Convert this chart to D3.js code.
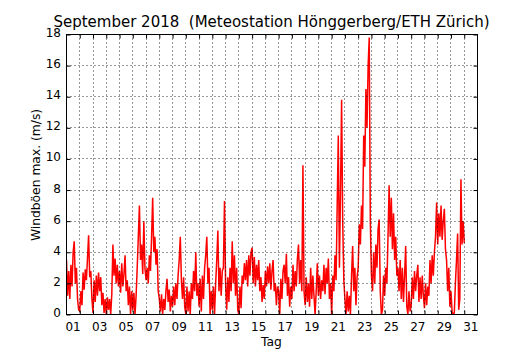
<!DOCTYPE html>
<html>
<head>
<meta charset="utf-8">
<script src="https://cdn.jsdelivr.net/npm/d3@7"></script>
<style>
  html, body { margin: 0; padding: 0; background: #fff; }
  svg { display: block; font-family: "DejaVu Sans", sans-serif; }
  .title { white-space: pre; }
</style>
</head>
<body>
<svg id="chart" width="530" height="350"></svg>
<script>
// Maximum wind gusts (m/s), Sept 2018, sampled every 2 hours from 1 Sept 00:00
const firstDay = 1;
const samplesPerDay = 12;
const gustMax = [
  // 01
  3.5, 1.2, 2.8, 1.0, 3.2, 1.8, 4.0, 4.7, 2.0, 3.0, 1.0, 0.3,
  // 02
  0.2, 1.5, 0.6, 2.7, 1.6, 2.9, 2.2, 3.6, 5.1, 2.4, 2.8, 1.0,
  // 03
  0.1, 2.2, 0.8, 2.5, 1.2, 2.7, 1.5, 2.4, 0.6, 1.4, 0.1, 1.0,
  // 04
  0.0, 1.1, 0.3, 1.0, 0.0, 1.3, 4.5, 2.5, 3.6, 2.0, 3.2, 1.8,
  // 05
  2.8, 1.4, 3.3, 1.8, 2.6, 3.8, 1.5, 2.2, 0.6, 1.8, 0.0, 1.5,
  // 06
  0.3, 1.4, 0.0, 1.2, 3.0, 5.0, 7.0, 3.5, 4.5, 2.6, 6.0, 3.0,
  // 07
  2.2, 3.0, 2.0, 3.8, 2.8, 5.0, 7.5, 4.0, 5.0, 3.2, 4.2, 1.5,
  // 08
  1.0, 0.2, 1.3, 0.0, 1.0, 0.3, 1.5, 2.3, 0.8, 1.6, 0.2, 1.2,
  // 09
  0.5, 1.8, 0.6, 2.0, 1.0, 2.5, 3.5, 5.0, 2.2, 1.0, 2.4, 0.5,
  // 10
  0.0, 1.8, 0.2, 1.5, 0.0, 2.0, 1.0, 2.8, 1.5, 4.0, 1.2, 2.0,
  // 11
  0.5, 2.3, 0.2, 2.5, 1.0, 3.0, 3.8, 5.0, 2.0, 3.0, 0.0, 1.5,
  // 12
  0.3, 1.8, 0.0, 2.0, 3.5, 5.4, 1.5, 3.0, 1.2, 2.8, 3.0, 7.3,
  // 13
  2.0, 0.3, 2.4, 0.8, 3.0, 1.5, 4.7, 2.0, 3.8, 1.2, 3.0, 0.3,
  // 14
  0.0, 1.8, 0.4, 2.5, 2.0, 3.3, 2.2, 3.5, 1.8, 3.8, 2.5, 4.0,
  // 15
  4.3, 2.0, 3.7, 1.8, 3.2, 2.2, 3.5, 1.5, 2.4, 0.8, 1.9, 1.0,
  // 16
  2.8, 1.8, 3.1, 2.0, 3.3, 1.6, 2.8, 3.5, 1.5, 2.0, 0.6, 1.8,
  // 17
  1.5, 0.0, 2.3, 1.0, 2.8, 3.2, 2.0, 3.9, 1.2, 2.4, 0.5, 1.8,
  // 18
  1.0, 3.2, 1.5, 2.8, 1.8, 3.6, 4.5, 2.0, 3.5, 1.5, 9.6, 1.5,
  // 19
  0.6, 2.4, 0.8, 2.0, 0.5, 3.0, 1.0, 2.5, 1.2, 0.0, 1.5, 3.3,
  // 20
  1.2, 2.5, 1.0, 2.2, 1.5, 3.2, 1.3, 3.0, 2.0, 3.6, 1.0, 2.0,
  // 21
  0.0, 2.5, 1.5, 3.8, 2.2, 7.0, 11.5, 3.0, 7.8, 13.8, 6.0, 2.2,
  // 22
  1.0, 0.0, 1.5, 0.2, 1.2, 0.0, 2.5, 4.4, 1.5, 3.0, 0.6, 2.4,
  // 23
  3.0, 5.8, 4.5, 7.0, 5.5, 11.5, 9.5, 14.5, 12.0, 16.0, 17.8, 6.0,
  // 24
  2.5, 1.5, 4.0, 2.0, 4.5, 3.0, 5.5, 6.1, 1.5, 0.0, 0.3, 2.5,
  // 25
  1.2, 3.0, 2.0, 5.0, 8.3, 5.0, 7.5, 4.2, 6.5, 3.5, 5.0, 2.5,
  // 26
  3.0, 1.5, 3.5, 1.0, 3.0, 0.8, 2.5, 4.4, 0.5, 0.0, 1.5, 0.2,
  // 27
  0.6, 2.4, 1.0, 2.8, 1.5, 2.5, 3.2, 0.8, 2.4, 1.0, 2.5, 1.2,
  // 28
  0.4, 2.0, 0.6, 1.8, 1.2, 3.5, 2.0, 3.8, 2.5, 4.0, 5.0, 7.2,
  // 29
  4.5, 6.5, 5.0, 7.0, 4.8, 6.0, 6.8, 4.2, 3.5, 1.5, 3.0, 0.5,
  // 30
  1.5, 0.2, 0.0, 0.1, 2.0, 3.5, 5.2, 0.3, 1.0, 8.7, 4.5, 6.0,
  // 01 Oct 00:00
  4.6
];

const dayLabels = ["01","03","05","07","09","11","13","15","17","19","21","23","25","27","29","31"];
const yTickValues = [0, 2, 4, 6, 8, 10, 12, 14, 16, 18];

const titleText = "September 2018  (Meteostation Hönggerberg/ETH Zürich)";
const yLabelText = "Windböen max. (m/s)";
const xLabelText = "Tag";

const svg = d3.select("#chart");
const plotL = 66.5, plotR = 477.5, plotT = 34.5, plotB = 314.5;

const x = d3.scaleLinear().domain([1, 32]).range([plotL, plotR]);
const y = d3.scaleLinear().domain([0, 18]).range([plotB, plotT]);

const series = gustMax.map((v, i) => ({ t: firstDay + i / samplesPerDay, v }));

// clip to the plotting area
svg.append("clipPath").attr("id", "plotClip")
  .append("rect").attr("x", plotL).attr("y", plotT)
  .attr("width", plotR - plotL).attr("height", plotB - plotT);

// gust line
svg.append("path")
  .datum(series)
  .attr("clip-path", "url(#plotClip)")
  .attr("fill", "none")
  .attr("stroke", "#ff0000")
  .attr("stroke-width", 1.5)
  .attr("d", d3.line().x(d => x(d.t)).y(d => y(d.v)));

// day boundaries: gridlines + ticks
const dayTicks = d3.range(2, 32);
const grid = svg.append("g").attr("stroke", "#000").attr("stroke-width", 1)
  .attr("stroke-dasharray", "1,3").attr("opacity", 0.8);
grid.selectAll("line.v").data(dayTicks).join("line").attr("class", "v")
  .attr("x1", d => Math.round(x(d) - 0.5) + 0.5).attr("x2", d => Math.round(x(d) - 0.5) + 0.5)
  .attr("y1", plotT).attr("y2", plotB);
grid.selectAll("line.h").data(yTickValues.slice(1, -1)).join("line").attr("class", "h")
  .attr("y1", d => Math.round(y(d) - 0.5) + 0.5).attr("y2", d => Math.round(y(d) - 0.5) + 0.5)
  .attr("x1", plotL).attr("x2", plotR);

// x axis (bottom & top) with inward ticks
const xAxisBottom = d3.axisBottom(x).tickValues(dayTicks).tickSize(-4).tickFormat("");
const xAxisTop = d3.axisTop(x).tickValues(dayTicks).tickSize(-4).tickFormat("");
svg.append("g").attr("transform", `translate(0,${plotB})`).call(xAxisBottom)
  .call(g => g.select(".domain").remove());
svg.append("g").attr("transform", `translate(0,${plotT})`).call(xAxisTop)
  .call(g => g.select(".domain").remove());

// y axis (left & right) with inward ticks
const yAxisLeft = d3.axisLeft(y).tickValues(yTickValues).tickSize(-4).tickFormat("");
const yAxisRight = d3.axisRight(y).tickValues(yTickValues).tickSize(-4).tickFormat("");
svg.append("g").attr("transform", `translate(${plotL},0)`).call(yAxisLeft)
  .call(g => g.select(".domain").remove());
svg.append("g").attr("transform", `translate(${plotR},0)`).call(yAxisRight)
  .call(g => g.select(".domain").remove());
svg.selectAll(".tick line").attr("stroke", "#000").attr("stroke-width", 1);

// frame
svg.append("rect").attr("x", plotL).attr("y", plotT)
  .attr("width", plotR - plotL).attr("height", plotB - plotT)
  .attr("fill", "none").attr("stroke", "#000").attr("stroke-width", 1);

// day labels centred on each labelled day
svg.append("g").selectAll("text").data(dayLabels).join("text")
  .attr("x", d => x(+d + 0.5))
  .attr("y", 331)
  .attr("text-anchor", "middle")
  .attr("font-size", 12)
  .attr("fill", "#000")
  .text(d => d);

// y tick labels
svg.append("g").selectAll("text").data(yTickValues).join("text")
  .attr("x", 61)
  .attr("y", d => y(d) + 2.5)
  .attr("text-anchor", "end")
  .attr("font-size", 12)
  .attr("fill", "#000")
  .text(d => d);

// title and axis labels
svg.append("text").attr("class", "title").attr("x", 271.5).attr("y", 26.5)
  .attr("text-anchor", "middle").attr("font-size", 15).attr("fill", "#000")
  .text(titleText);
svg.append("text").attr("x", 271.5).attr("y", 345.5)
  .attr("text-anchor", "middle").attr("font-size", 12.3).attr("fill", "#000")
  .text(xLabelText);
svg.append("text")
  .attr("transform", "translate(39.5,175) rotate(-90)")
  .attr("text-anchor", "middle").attr("font-size", 12.3).attr("fill", "#000")
  .text(yLabelText);
</script>
</body>
</html>
